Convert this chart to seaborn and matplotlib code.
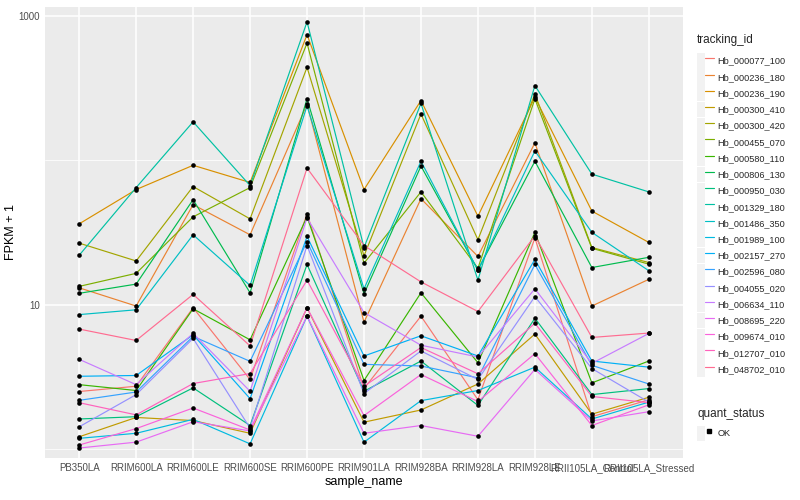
import numpy as np
import pandas as pd
import matplotlib
matplotlib.use("Agg")
import matplotlib.pyplot as plt
import seaborn as sns
from matplotlib.lines import Line2D
from matplotlib.patches import Patch
from matplotlib.legend_handler import HandlerTuple
from matplotlib.ticker import FixedLocator, FixedFormatter, NullFormatter

sns.set_style("darkgrid")
plt.rcParams["font.family"] = ["Liberation Sans", "DejaVu Sans"]

samples = ["PB350LA", "RRIM600LA", "RRIM600LE", "RRIM600SE", "RRIM600PE",
           "RRIM901LA", "RRIM928BA", "RRIM928LA", "RRIM928LE",
           "RRII105LA_Control", "RRII105LA_Stressed"]

tracking_ids = ["Hb_000077_100", "Hb_000236_180", "Hb_000236_190", "Hb_000300_410",
                "Hb_000300_420", "Hb_000455_070", "Hb_000580_110", "Hb_000806_130",
                "Hb_000950_030", "Hb_001329_180", "Hb_001486_350", "Hb_001989_100",
                "Hb_002157_270", "Hb_002596_080", "Hb_004055_020", "Hb_006634_110",
                "Hb_008695_220", "Hb_009674_010", "Hb_012707_010", "Hb_048702_010"]

# FPKM + 1 per sample (order of `samples`)
hb_000077_100 = [2.51, 2.73, 9.53, 3.04, 42.6, 2.63, 8.34, 2.20, 29.0, 1.68, 2.20]
hb_000236_180 = [13.1, 9.8, 49.3, 30.5, 244, 7.57, 54.2, 21.6, 132, 9.8, 15.0]
hb_000236_190 = [36.3, 62.7, 92.3, 70.2, 740, 62.7, 259, 41.0, 273, 44.5, 27.0]
hb_000300_410 = [1.22, 1.66, 1.58, 1.29, 9.53, 1.54, 1.87, 2.83, 6.27, 1.75, 2.29]
hb_000300_420 = [26.7, 20.1, 65.8, 39.3, 440, 21.8, 209, 28.2, 288, 24.9, 19.6]
hb_000455_070 = [13.4, 16.5, 40.6, 64.7, 647, 19.4, 60.4, 17.9, 266, 24.6, 19.1]
hb_000580_110 = [2.80, 2.55, 9.38, 5.72, 40.6, 2.99, 12.1, 3.97, 31.7, 2.88, 4.08]
hb_000806_130 = [12.0, 13.9, 53.4, 12.1, 267, 11.9, 91.2, 17.4, 98.4, 18.1, 21.3]
hb_000950_030 = [1.62, 1.68, 2.66, 1.46, 19.0, 2.52, 4.08, 2.01, 8.07, 2.39, 2.63]
hb_001329_180 = [22.0, 64.7, 184.5, 66.8, 908, 24.9, 247.6, 14.8, 329, 80.2, 60.4]
hb_001486_350 = [8.55, 9.23, 30.5, 13.6, 238, 12.9, 98.4, 17.3, 116, 31.7, 17.2]
hb_001989_100 = [1.19, 1.29, 1.61, 1.09, 8.34, 1.12, 2.17, 2.55, 3.70, 1.62, 2.12]
hb_002157_270 = [3.20, 3.24, 6.20, 2.24, 29.7, 4.42, 6.10, 4.42, 20.6, 4.08, 3.70]
hb_002596_080 = [2.18, 2.49, 6.04, 4.06, 27.4, 3.87, 3.77, 3.12, 19.0, 3.81, 2.83]
hb_004055_020 = [1.43, 2.39, 5.85, 1.40, 25.7, 2.43, 4.79, 3.04, 11.4, 3.62, 2.12]
hb_006634_110 = [4.19, 2.80, 6.34, 2.52, 39.9, 8.84, 5.25, 4.35, 12.9, 3.93, 6.33]
hb_008695_220 = [1.02, 1.12, 1.55, 1.34, 8.34, 1.29, 1.46, 1.23, 3.57, 1.57, 1.82]
hb_009674_010 = [1.07, 1.39, 1.93, 1.36, 9.53, 1.71, 3.29, 2.14, 4.59, 1.46, 2.03]
hb_012707_010 = [2.10, 1.73, 2.85, 3.34, 14.8, 2.73, 5.06, 3.33, 7.45, 2.32, 2.10]
hb_048702_010 = [6.79, 5.66, 11.8, 5.19, 88.3, 25.7, 14.4, 8.98, 30.0, 5.94, 6.37]

series = [hb_000077_100, hb_000236_180, hb_000236_190, hb_000300_410, hb_000300_420,
          hb_000455_070, hb_000580_110, hb_000806_130, hb_000950_030, hb_001329_180,
          hb_001486_350, hb_001989_100, hb_002157_270, hb_002596_080, hb_004055_020,
          hb_006634_110, hb_008695_220, hb_009674_010, hb_012707_010, hb_048702_010]

colors = ["#F8766D", "#EA8331", "#D89000", "#C09B00", "#A3A500", "#7CAE00", "#39B600",
          "#00BB4E", "#00BF7D", "#00C1A3", "#00BFC4", "#00BAE0", "#00B0F6", "#35A2FF",
          "#9590FF", "#C77CFF", "#E76BF3", "#FA62DB", "#FF62BC", "#FF6C91"]
pal = dict(zip(tracking_ids, colors))

rows = []
for tid, vals in zip(tracking_ids, series):
    for s, v in zip(samples, vals):
        rows.append((tid, s, v, "OK"))
df = pd.DataFrame(rows, columns=["tracking_id", "sample_name", "FPKM", "quant_status"])
df["xpos"] = df["sample_name"].map({s: i for i, s in enumerate(samples)})

fig = plt.figure(figsize=(8, 5), dpi=100)
ax = fig.add_axes([45 / 800, 1 - 458 / 500, (683 - 45) / 800, (458 - 7) / 500])
ax.set_facecolor("#EBEBEB")

sns.lineplot(data=df, x="xpos", y="FPKM", hue="tracking_id", hue_order=tracking_ids,
             palette=pal, sort=False, estimator=None, linewidth=0.85, legend=False, ax=ax)
sns.scatterplot(data=df, x="xpos", y="FPKM", color="black", s=11, linewidth=0,
                legend=False, ax=ax, zorder=5)

ax.set_yscale("log")
ax.set_ylim(0.87, 1150)
ax.set_xlim(-0.6, len(samples) - 0.4)
ax.xaxis.set_major_locator(FixedLocator(range(len(samples))))
ax.xaxis.set_major_formatter(FixedFormatter(samples))
ax.yaxis.set_major_locator(FixedLocator([10, 1000]))
ax.yaxis.set_major_formatter(FixedFormatter(["10", "1000"]))
ax.yaxis.set_minor_locator(FixedLocator([1, 100]))
ax.yaxis.set_minor_formatter(NullFormatter())

ax.grid(False)
ax.grid(which="major", color="white", linewidth=1.1)
ax.grid(which="minor", axis="y", color="white", linewidth=0.55)
ax.set_axisbelow(True)
for sp in ax.spines.values():
    sp.set_visible(False)
ax.tick_params(which="major", length=2.0, width=0.6, color="#333333",
               labelsize=7, labelcolor="#4D4D4D", pad=1.5)
ax.tick_params(which="minor", length=0)
ax.set_xlabel("sample_name", fontsize=9, labelpad=2, color="black")
ax.set_ylabel("FPKM + 1", fontsize=9, labelpad=1, color="black")

leg_kw = dict(loc="upper left", frameon=False, fontsize=6.6, title_fontsize=8.5,
              handlelength=1.8, handleheight=2.27, labelspacing=0.05,
              handletextpad=0.45, borderaxespad=0, borderpad=0,
              handler_map={tuple: HandlerTuple(ndivide=None, pad=0)})

handles = [(Patch(facecolor="#F2F2F2", edgecolor="none"),
            Line2D([], [], color=c, lw=0.85)) for c in colors]
leg1 = fig.legend(handles, tracking_ids, title="tracking_id",
                  bbox_to_anchor=(697 / 800, 1 - 34 / 500), **leg_kw)
leg1._legend_box.align = "left"
leg1._legend_box.sep = 5

h2 = [(Patch(facecolor="#F2F2F2", edgecolor="none"),
       Line2D([], [], color="black", marker="s", ls="none", markersize=2.3))]
leg2 = fig.legend(h2, ["OK"], title="quant_status",
                  bbox_to_anchor=(697 / 800, 1 - 408 / 500), **leg_kw)
leg2._legend_box.align = "left"
leg2._legend_box.sep = 4

fig.savefig("out.png", dpi=100)
